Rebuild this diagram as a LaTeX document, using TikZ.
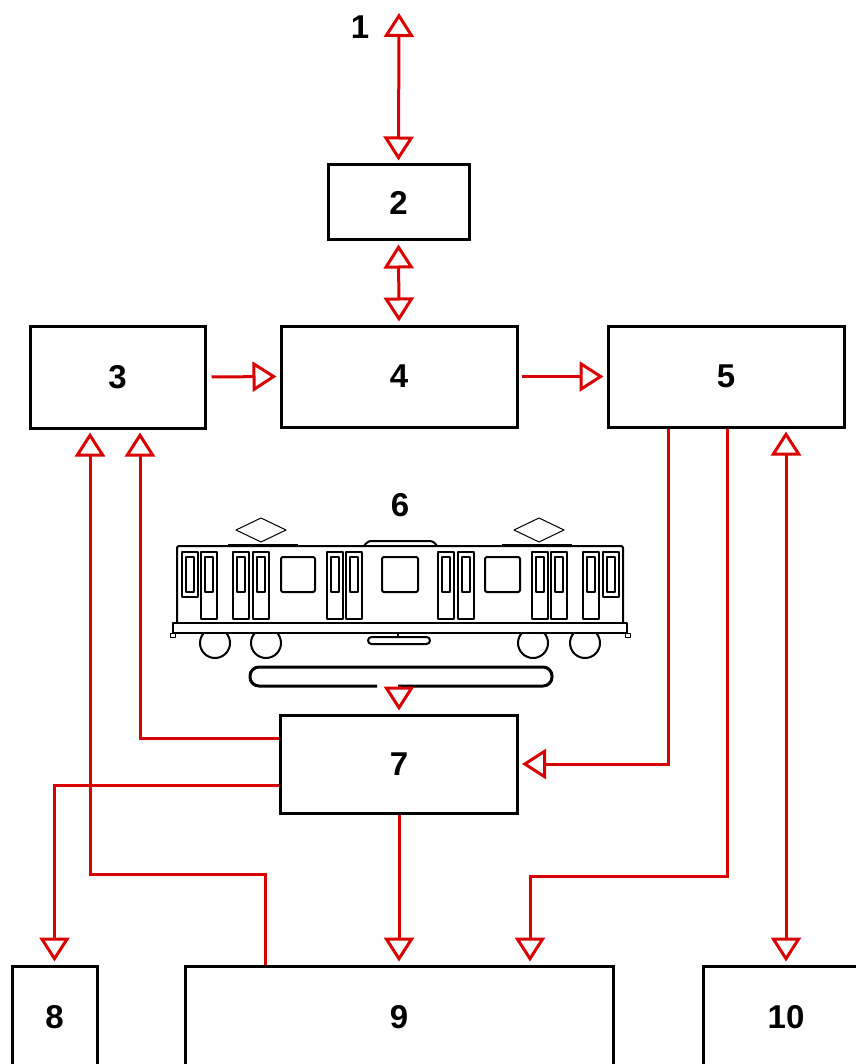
\documentclass[tikz,border=0pt]{standalone}
\usepackage{fontspec}
\setmainfont{Liberation Sans}
\usepackage{tikz}
\usetikzlibrary{arrows.meta, positioning}

\begin{document}
\begin{tikzpicture}
                        [x=1pt, y=-1pt,
                         block/.style={draw, line width=3pt, inner sep=0pt},
                         every node/.style={font=\bfseries\fontsize{33}{36}\selectfont},
                         flow/.style={draw=red!85!black, line width=3pt,
                             -{Triangle[open, length=24pt, width=30pt]}, shorten >=3pt},
                         flow2/.style={flow, {Triangle[open, length=24pt, width=30pt]}-{Triangle[open, length=24pt, width=30pt]}, shorten <=3pt},
                         car/.style={line width=2pt, line join=round}]

                        \useasboundingbox (0,0) rectangle (855,1064);

                        % blocks
                        \node[block, minimum width=141pt, minimum height=75pt] (b2) at (398.5,202.5) {2};
                        \node[block, minimum width=175pt, minimum height=102pt] (b3) at (117.5,377) {3};
                        \node[block, minimum width=236pt, minimum height=101pt] (b4) at (399,376.5) {4};
                        \node[block, minimum width=236pt, minimum height=101pt] (b5) at (726,376.5) {5};
                        \node[block, minimum width=237pt, minimum height=98pt] (b7) at (399,764) {7};
                        \node[block, minimum width=85pt, minimum height=102pt] (b8) at (54.5,1017) {8};
                        \node[block, minimum width=428pt, minimum height=102pt] (b9) at (399,1017) {9};
                        \node[block, minimum width=166pt, minimum height=102pt] (b10) at (786,1017) {10};

                        \node (l1) at (360,27) {1};
                        \node (l6) at (400,505) {6};
                        \coordinate (top) at (399,10);
                        \coordinate (rail) at (399,686);

                        % the car
                        \begin{scope}[car]
                            \foreach \wx in {215,266,533,585}
                                \draw (\wx,643) circle (15);
                            \draw[fill=white, line width=2.5pt] (173,623) rectangle (627,633);
                            \draw[line width=1pt] (170,633) rectangle (175,637);
                            \draw[line width=1pt] (625,633) rectangle (630,637);
                            \draw[rounded corners=2pt] (177,623) -- (177,546) -- (623,546) -- (623,623);
                            % roof
                            \draw[line width=3pt] (228,545) -- (298,545);
                            \draw[line width=3pt] (502,545) -- (572,545);
                            \draw[rounded corners=3pt] (364,546) -- (368,541) -- (433,541) -- (437,546);
                            \foreach \px in {261,539}
                                \draw[line width=1pt] (\px-25,530) -- (\px,518) -- (\px+25,530) -- (\px,542) -- cycle;
                            % doors
                            \foreach \dx in {201,233,253,327,346,438,458,532,551,583} {
                                \draw (\dx,552) rectangle (\dx+16,619);
                                \draw (\dx+4,557) rectangle (\dx+12,592);
                            }
                            % end windows
                            \foreach \ex in {182,603} {
                                \draw (\ex,552) rectangle (\ex+16,597);
                                \draw (\ex+4,557) rectangle (\ex+12,592);
                            }
                            % windows
                            \draw[rounded corners=2pt] (281,557) rectangle (315,592);
                            \draw[rounded corners=2pt] (382,557) rectangle (418,592);
                            \draw[rounded corners=2pt] (485,557) rectangle (520,592);
                            % bogie slot
                            \draw (398,633) -- (398,637);
                            \draw[rounded corners=3.5pt] (368,637) rectangle (430,644);
                            % rail
                            \draw[line width=3pt, rounded corners=9pt]
                                (377,686) -| (250,667) -| (552,686) -- (398,686);
                        \end{scope}

                        % connections
                        \draw[flow2] (b2.north) -- (top);
                        \draw[flow2] (b2.south) -- (b4.north);
                        \draw[flow, shorten <=5pt] (b3.east) -- (b4.west);
                        \draw[flow, shorten <=3pt] (b4.east) -- (b5.west);
                        \draw[flow] (rail) -- (b7.north);
                        \draw[flow] ([yshift=26pt]b7.west) -| ([xshift=22.5pt]b3.south);
                        \draw[flow] ([xshift=-134pt]b9.north) -- ++(0,-90) -| ([xshift=-27.5pt]b3.south);
                        \draw[flow] ([xshift=-58pt]b5.south) |- (b7.east);
                        \draw[flow] ([xshift=1pt]b5.south) -- ++(0,448) -| ([xshift=131pt]b9.north);
                        \draw[flow2] (b10.north) -- (b10.north |- b5.south);
                        \draw[flow] ([yshift=-21pt]b7.west) -| (b8.north);
                        \draw[flow] (b7.south) -- (b9.north);
                    \end{tikzpicture}
\end{document}
